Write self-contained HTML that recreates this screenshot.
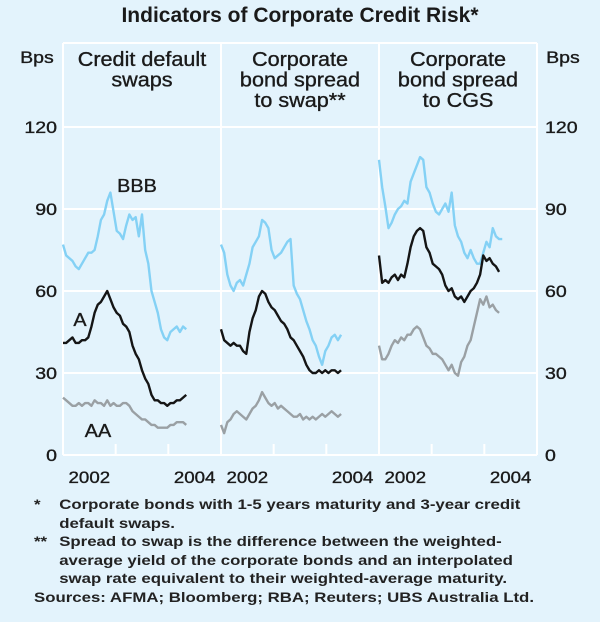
<!DOCTYPE html>
<html><head><meta charset="utf-8">
<style>
html,body{margin:0;padding:0;background:#e3f3fc;}
body{width:600px;height:622px;position:relative;overflow:hidden;font-family:"Liberation Sans",Arial,sans-serif;color:#1a1a1a;}
#title{position:absolute;left:0;width:600px;top:4px;text-align:center;font-weight:bold;font-size:21px;}
#notes{position:absolute;left:34px;top:495px;font-size:14px;line-height:18.6px;font-weight:bold;color:#222;transform:scaleX(1.2);transform-origin:0 0;white-space:nowrap;}
.n{position:relative;padding-left:21px;}
.n span{position:absolute;left:0;}
</style></head><body>
<div id="title">Indicators of Corporate Credit Risk*</div>
<svg id="chart" width="600" height="622" style="position:absolute;left:0;top:0"></svg>
<div id="notes">
<div class="n"><span>*</span>Corporate bonds with 1-5 years maturity and 3-year credit<br>default swaps.</div>
<div class="n"><span>**</span>Spread to swap is the difference between the weighted-<br>average yield of the corporate bonds and an interpolated<br>swap rate equivalent to their weighted-average maturity.</div>
<div>Sources: AFMA; Bloomberg; RBA; Reuters; UBS Australia Ltd.</div>
</div>
<script>
const yTicks=[0,30,60,90,120];
const yearLabels=["2002","2004"];
const panelTitles=[["Credit default","swaps"],["Corporate","bond spread","to swap**"],["Corporate","bond spread","to CGS"]];
const cdsBBB=[77,73,72,71,69,68,70,72,74,74,75,80,86,88,93,96,89,82,81,79,84,88,86,87,80,88,75,70,60,56,52,46,43,42,45,46,47,45,47,46];
const cdsA=[41,41,42,43,41,41,42,42,43,47,52,55,56,58,60,57,54,52,51,48,47,45,40,37,35,31,28,26,22,20,20,19,19,18,19,19,20,20,21,22];
const cdsAA=[21,20,19,18,18,19,18,19,19,18,20,19,19,18,20,18,19,18,18,19,19,18,16,15,14,13,13,12,11,11,10,10,10,10,11,11,12,12,12,11];
const swapBBB=[77,74,66,62,60,63,64,62,66,70,76,78,80,86,85,83,75,72,73,74,76,78,79,62,59,57,53,49,46,42,40,36,33,38,40,43,44,42,44];
const swapA=[46,42,41,40,41,40,40,38,37,45,50,53,58,60,59,56,54,53,51,49,48,46,43,42,40,38,36,33,31,30,30,31,30,31,30,31,31,30,31];
const swapAA=[11,8,12,13,15,16,15,14,13,15,17,18,20,23,21,19,18,19,17,18,17,16,15,14,14,15,13,14,13,14,13,14,15,14,15,16,15,14,15];
const cgsBBB=[108,98,91,83,85,88,90,91,93,92,100,103,106,109,108,98,96,92,89,88,90,92,89,96,84,80,78,74,72,75,72,70,70,74,78,76,83,80,79,79];
const cgsA=[73,63,64,63,65,66,64,66,65,70,76,80,82,83,82,76,74,70,69,68,66,62,60,61,58,57,58,56,58,60,61,63,66,73,71,72,70,69,67];
const cgsAA=[40,35,35,37,40,42,41,43,42,44,44,46,47,46,43,40,39,37,37,36,35,33,31,33,30,29,34,36,40,42,47,52,57,55,58,54,55,53,52];
const STEP=0.06; // years between observations

const NS="http://www.w3.org/2000/svg";
const svg=document.getElementById('chart');
const L=63,R=537,T=43,B=455,PW=158;
function y(v){return B-(v/120)*(B-127);}
function x(p,t){return L+p*PW+t*(PW/3);}
function mk(tag,attrs){const e=document.createElementNS(NS,tag);for(const k in attrs)e.setAttribute(k,attrs[k]);svg.appendChild(e);return e;}
function txt(s,xx,yy,anchor,size,stretch){
 const e=mk('text',{x:xx,y:yy,'text-anchor':anchor,'font-size':size,'font-family':'Liberation Sans, Arial, sans-serif',fill:'#1a1a1a',stroke:'#1a1a1a','stroke-width':0.35});
 e.textContent=s;
 const w=e.getComputedTextLength();
 if(w>0){e.setAttribute('textLength',w*(stretch||1.12));e.setAttribute('lengthAdjust','spacingAndGlyphs');}
 return e;}

yTicks.forEach(v=>{
 const g=mk('line',{x1:L,x2:R,y1:y(v),y2:y(v),stroke:'#fff','stroke-width':2});
 
 
 const a=txt(String(v),57,y(v)+6,'end',17,1.15);
 
 
 const b=txt(String(v),545,y(v)+6,'start',17,1.15);
 
 
});
const topBorder=mk('line',{x1:L,x2:R,y1:T,y2:T,stroke:'#fff','stroke-width':2});


for(let p=0;p<=3;p++){
 const d=mk('line',{x1:L+p*PW,x2:L+p*PW,y1:T,y2:B,stroke:'#fff','stroke-width':2});
 
 
}
for(let p=0;p<3;p++){
 for(let k=1;k<3;k++){
  const t=mk('line',{x1:x(p,k),x2:x(p,k),y1:B,y2:B-11,stroke:'#fff','stroke-width':2});
  
  
 }
 const l1=txt(yearLabels[0],x(p,0.5),483,'middle',17,1.1);
 
 
 const l2=txt(yearLabels[1],x(p,2.5),483,'middle',17,1.1);
 
 
 panelTitles[p].forEach((s,i)=>{
  const e=txt(s,L+p*PW+PW/2,66+i*20.5,'middle',20,1.08);
  
  
 });
}
const bl=txt('Bps',37,63,'middle',17,1.15);
const br=txt('Bps',563,63,'middle',17,1.15);

function series(p,data,color,name){
 const pts=data.map((v,i)=>x(p,i*STEP)+','+y(v)).join(' ');
 const e=mk('polyline',{points:pts,fill:'none',stroke:color,'stroke-width':2.4,'stroke-linejoin':'round'});
 
 
}
const LB='#84d1f5',BK='#151515',GR='#9aa0a4';
series(0,cdsAA,GR,'cds-aa-line');series(0,cdsBBB,LB,'cds-bbb-line');series(0,cdsA,BK,'cds-a-line');
series(1,swapAA,GR,'swap-aa-line');series(1,swapBBB,LB,'swap-bbb-line');series(1,swapA,BK,'swap-a-line');
series(2,cgsAA,GR,'cgs-aa-line');series(2,cgsBBB,LB,'cgs-bbb-line');series(2,cgsA,BK,'cgs-a-line');

const s1=txt('BBB',137,192,'middle',18,1.1);
const s2=txt('A',80,326,'middle',18,1.1);
const s3=txt('AA',98,437,'middle',18,1.1);
</script>
</body></html>
